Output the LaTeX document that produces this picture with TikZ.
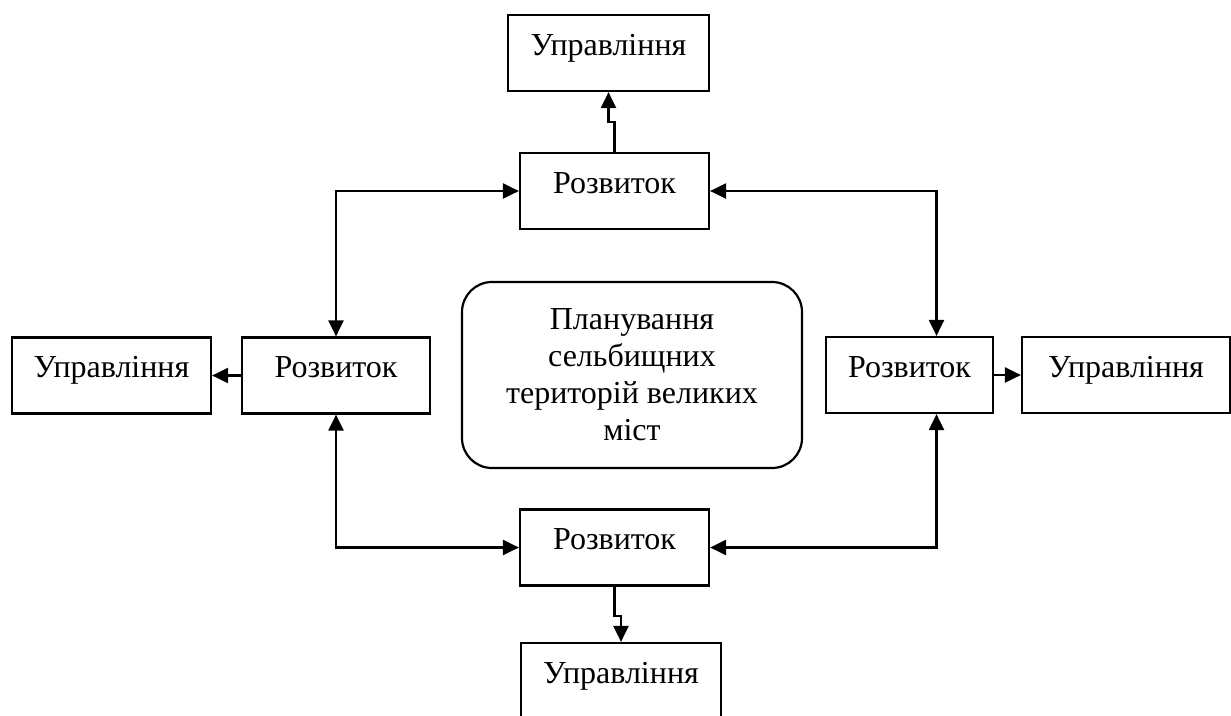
\documentclass[tikz,border=0pt]{standalone}
\usepackage{fontspec}
\setmainfont{Liberation Serif}
\usetikzlibrary{arrows.meta}
\begin{document}
\begin{tikzpicture}[x=1pt,y=-1pt,
  every node/.style={font=\fontsize{32}{37}\selectfont},
  box/.style={draw, line width=2.2pt, inner sep=0pt, text height=40pt, text depth=36pt, anchor=center},
  mainbox/.style={draw, line width=2.2pt, rounded corners=30pt, align=center, inner sep=0pt, minimum width=340pt, minimum height=186pt},
  conn/.style={line width=2.2pt, {Triangle[length=16pt,width=15pt]}-{Triangle[length=16pt,width=15pt]}},
  oneway/.style={line width=2.2pt, -{Triangle[length=16pt,width=15pt]}}]
\useasboundingbox (0,0) rectangle (1231,715);
\node[box, minimum width=201pt] (utop) at (608.5,53) {Управління};
\node[box, minimum width=189pt] (rtop) at (614.5,191) {Розвиток};
\node[box, minimum width=188pt] (rleft) at (336,375.5) {Розвиток};
\node[box, minimum width=199pt] (uleft) at (111.5,375.5) {Управління};
\node[box, minimum width=167pt] (rright) at (909.5,375) {Розвиток};
\node[box, minimum width=208pt] (uright) at (1126,375) {Управління};
\node[box, minimum width=189pt] (rbot) at (614.5,547.5) {Розвиток};
\node[box, minimum width=200pt] (ubot) at (621,681) {Управління};
\node[mainbox] (main) at (632,375) {Планування\\сельбищних\\територій великих\\міст};
% connectors
\draw[oneway] (rtop.north) -- ++(0,-30) -| (utop.south);
\draw[oneway] (rbot.south) -- ++(0,29) -| (ubot.north);
\draw[oneway] (rleft.west) -- (uleft.east);
\draw[oneway] (rright.east) -- (uright.west);
\draw[conn] (rleft.north) |- (rtop.west);
\draw[conn] ([xshift=27pt]rright.north) |- (rtop.east);
\draw[conn] (rleft.south) |- (rbot.west);
\draw[conn] ([xshift=27pt]rright.south) |- (rbot.east);
\end{tikzpicture}
\end{document}
